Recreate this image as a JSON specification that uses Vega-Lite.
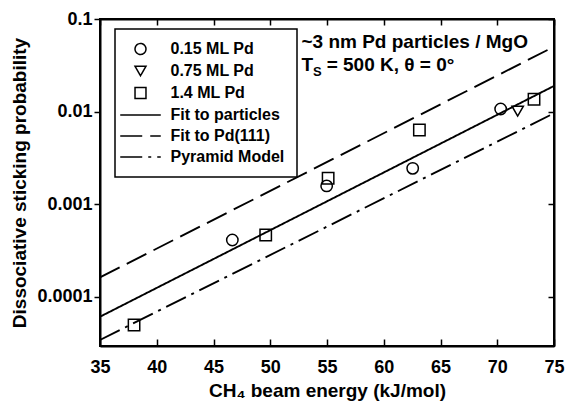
{
  "$schema": "https://vega.github.io/schema/vega-lite/v6.json",
  "width": 454,
  "height": 327,
  "autosize": {"type": "none"},
  "padding": {"left": 100, "top": 19, "right": 13, "bottom": 56},
  "config": {
    "font": "Liberation Sans",
    "view": {"stroke": "black", "strokeWidth": 2},
    "axis": {
      "domainColor": "black", "domainWidth": 2,
      "tickColor": "black", "tickWidth": 1.5,
      "grid": false, "labelFlush": false, "labelOverlap": false,
      "labelFont": "Liberation Sans", "labelFontSize": 18, "labelFontWeight": "bold", "labelColor": "black",
      "titleFont": "Liberation Sans", "titleFontSize": 19, "titleFontWeight": "bold", "titleColor": "black"
    }
  },
  "resolve": {"axis": {"x": "independent", "y": "independent"}},
  "layer": [
    {
      "data": {"values": [
        {"energy": 35, "prob": 0.0000605, "series": "Fit to particles"},
        {"energy": 75, "prob": 0.0189, "series": "Fit to particles"},
        {"energy": 35, "prob": 0.000161, "series": "Fit to Pd(111)"},
        {"energy": 75, "prob": 0.0502, "series": "Fit to Pd(111)"},
        {"energy": 35, "prob": 0.0000339, "series": "Pyramid Model"},
        {"energy": 75, "prob": 0.00957, "series": "Pyramid Model"}
      ]},
      "mark": {"type": "line", "color": "black", "strokeWidth": 1.9, "clip": true},
      "encoding": {
        "x": {
          "field": "energy", "type": "quantitative",
          "scale": {"domain": [35, 75], "nice": false, "zero": false},
          "axis": {"orient": "bottom", "values": [35, 40, 45, 50, 55, 60, 65, 70, 75], "tickSize": -7, "labelPadding": 19,
                   "title": "CH₄ beam energy (kJ/mol)", "titleY": 50, "titleBaseline": "alphabetic"}
        },
        "y": {
          "field": "prob", "type": "quantitative",
          "scale": {"type": "log", "domain": [0.0000292, 0.1], "nice": false},
          "axis": {"orient": "left", "values": [0.0001, 0.001, 0.01, 0.1], "format": "~g", "tickSize": 6, "labelPadding": 2,
                   "title": "Dissociative sticking probability", "titleX": -81, "titleBaseline": "middle"}
        },
        "strokeDash": {
          "field": "series", "type": "nominal",
          "scale": {
            "domain": ["0.15 ML Pd", "0.75 ML Pd", "1.4 ML Pd", "Fit to particles", "Fit to Pd(111)", "Pyramid Model"],
            "range": [[1, 0], [1, 0], [1, 0], [1, 0], [22, 8], [22, 6, 3, 6]]
          },
          "legend": {
            "orient": "none", "legendX": 15, "legendY": 10, "title": null,
            "padding": 12, "strokeColor": "black", "fillColor": "white",
            "labelFont": "Liberation Sans", "labelFontSize": 16, "labelFontWeight": "bold", "labelColor": "black",
            "symbolSize": 120, "symbolStrokeWidth": 1.5, "symbolStrokeColor": "black", "symbolFillColor": "transparent",
            "rowPadding": 5, "symbolOffset": 5.5, "labelOffset": 22,
            "encode": {"legend": {"update": {"strokeWidth": {"value": 1.5}}}}
          }
        }
      }
    },
    {
      "data": {"values": [
        {"energy": 46.66, "prob": 0.000408, "series": "0.15 ML Pd"},
        {"energy": 54.97, "prob": 0.00157, "series": "0.15 ML Pd"},
        {"energy": 62.55, "prob": 0.00243, "series": "0.15 ML Pd"},
        {"energy": 70.3, "prob": 0.01064, "series": "0.15 ML Pd"},
        {"energy": 71.8, "prob": 0.0101, "series": "0.75 ML Pd"},
        {"energy": 38.0, "prob": 0.0000492, "series": "1.4 ML Pd"},
        {"energy": 49.6, "prob": 0.000462, "series": "1.4 ML Pd"},
        {"energy": 55.1, "prob": 0.0019, "series": "1.4 ML Pd"},
        {"energy": 63.14, "prob": 0.00631, "series": "1.4 ML Pd"},
        {"energy": 73.24, "prob": 0.01355, "series": "1.4 ML Pd"}
      ]},
      "mark": {"type": "point", "filled": false, "color": "black", "strokeWidth": 1.5, "size": 130, "opacity": 1},
      "encoding": {
        "x": {
          "field": "energy", "type": "quantitative",
          "axis": {"orient": "top", "values": [35, 40, 45, 50, 55, 60, 65, 70, 75], "tickSize": -6, "labels": false, "title": null}
        },
        "y": {
          "field": "prob", "type": "quantitative",
          "axis": {"orient": "right", "values": [0.0001, 0.001, 0.01, 0.1], "tickSize": -6, "labels": false, "title": null}
        },
        "shape": {
          "field": "series", "type": "nominal",
          "scale": {
            "domain": ["0.15 ML Pd", "0.75 ML Pd", "1.4 ML Pd", "Fit to particles", "Fit to Pd(111)", "Pyramid Model"],
            "range": ["circle", "triangle-down", "square", "M-3.7,0L3.7,0", "M-3.7,0L3.7,0", "M-3.7,0L3.7,0"]
          },
          "legend": {
            "orient": "none", "legendX": 15, "legendY": 10, "title": null,
            "padding": 12, "strokeColor": "black", "fillColor": "white",
            "labelFont": "Liberation Sans", "labelFontSize": 16, "labelFontWeight": "bold", "labelColor": "black",
            "symbolSize": 120, "symbolStrokeWidth": 1.5, "symbolStrokeColor": "black", "symbolFillColor": "transparent",
            "rowPadding": 5, "symbolOffset": 5.5, "labelOffset": 22,
            "encode": {"legend": {"update": {"strokeWidth": {"value": 1.5}}}}
          }
        }
      }
    },
    {
      "data": {"values": [
        {"energy": 52.75, "prob": 0.0569, "label": "~3 nm Pd particles / MgO", "role": "main"},
        {"energy": 52.75, "prob": 0.0318, "label": "T", "role": "main"},
        {"energy": 53.77, "prob": 0.0269, "label": "S", "role": "sub"},
        {"energy": 54.97, "prob": 0.0318, "label": "= 500 K, θ = 0°", "role": "main"}
      ]},
      "mark": {"type": "text", "align": "left", "baseline": "middle", "font": "Liberation Sans", "fontWeight": "bold", "color": "black"},
      "encoding": {
        "x": {"field": "energy", "type": "quantitative", "axis": null},
        "y": {"field": "prob", "type": "quantitative", "axis": null},
        "text": {"field": "label"},
        "size": {"field": "role", "type": "nominal", "scale": {"domain": ["main", "sub"], "range": [19, 13]}, "legend": null}
      }
    }
  ]
}
